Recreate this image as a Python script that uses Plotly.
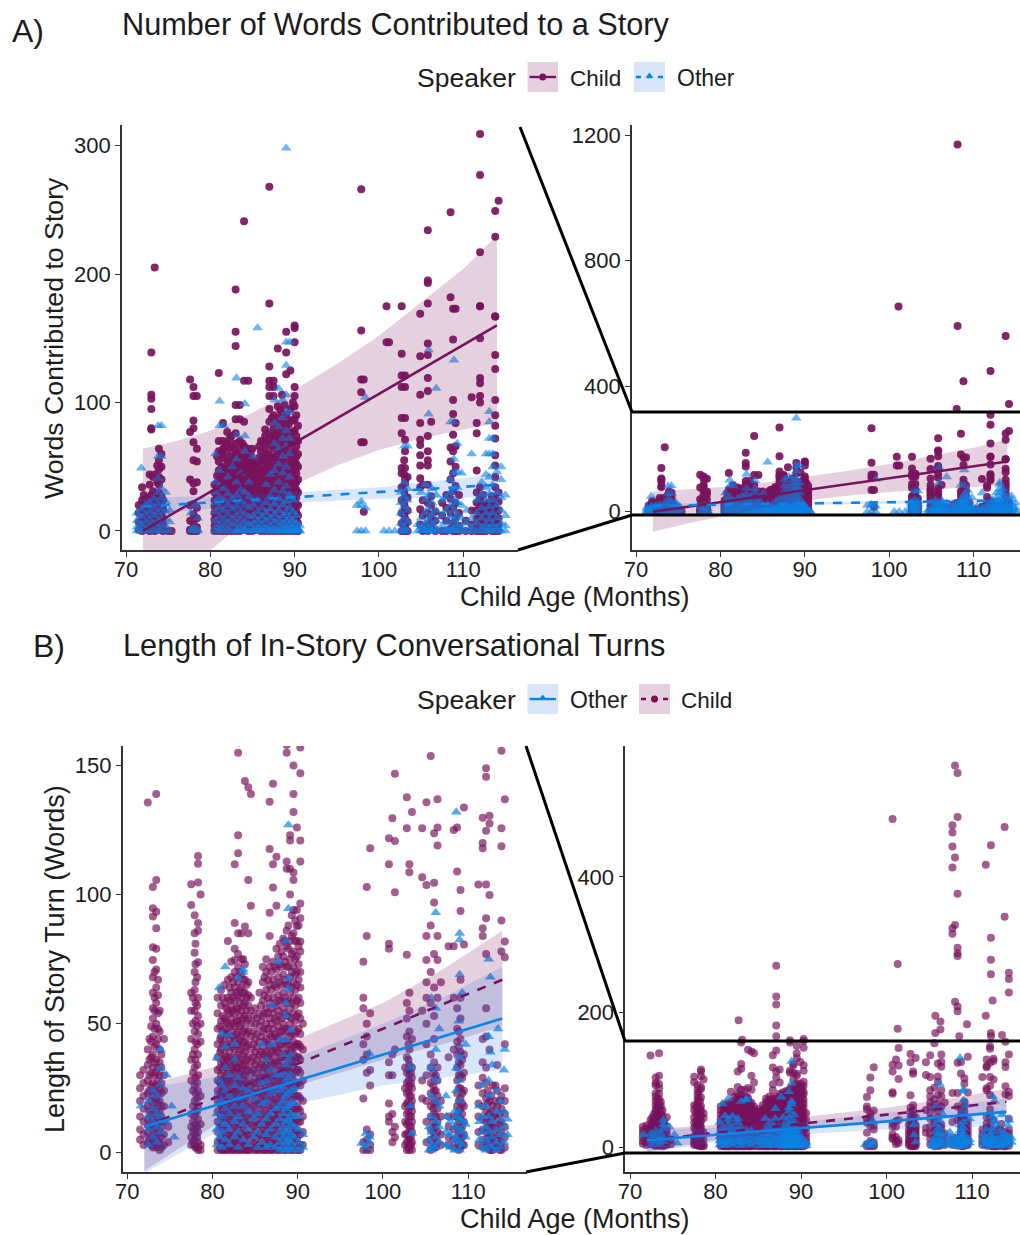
import plotly.graph_objects as go

# ---------- Panel A data: words contributed to a story (age, [values]) ----------
child_words_cols = [
 (71.5,[1,7,14,20]),(71.9,[0,4,10,17,24,34]),(72.4,[2,8,13,19,26]),(72.8,[0,5,11,16,22,36,44]),
 (73.0,[3,9,15,21,28,79,80,95,103,106,139]),(73.4,[0,6,12,18,25,44,205]),(73.9,[2,8,14,20,30,36,42,48,55,64]),
 (74.4,[0,5,10,17,24]),(75.0,[0]),(75.4,[0]),
 (77.6,[0,1,8,20,40,77,118]),(78.0,[0,6,13,21,31,37,55,69,80,86,105,112]),(78.4,[0,3,10,18,38,54,64,105]),
 (80.5,[0,4,9,14,19,24,30,36]),(81.0,[0,3,7,11,16,21,26,31,35,40,47,54,62,70,123]),
 (81.5,[0,5,9,13,18,23,28,33,38,44,50,57,64,70,84]),(82.0,[0,2,6,11,15,20,25,30,36,42,48,55,61,68,77]),
 (82.5,[0,4,8,13,17,22,27,33,39,45,51,58,66,74]),(83.0,[0,2,6,10,15,19,24,30,35,41,47,53,60,68,76,87,98,144,155,188]),
 (83.5,[0,4,8,12,17,22,27,32,38,44,50,56,63,70,87,98]),(84.0,[1,5,10,14,19,24,29,34,40,46,52,58,66,85,117,241]),
 (84.5,[0,3,7,12,16,21,26,31,37,43,49,56,64,117]),(85.0,[0,5,9,14,18,23,29,35,41,48,55,64]),
 (85.5,[1,6,10,15,20,25,30,36,43,51]),(86.0,[0,3,8,12,17,22,27,32,39,46,55,62,70]),
 (86.5,[0,5,9,14,19,24,30,36,42,48,56,63,74,79]),(87.0,[0,3,7,11,16,21,26,31,37,44,51,59,68,76,85,95,105,112,117,128,177,268]),
 (87.5,[0,5,9,13,18,23,28,34,40,47,55,64,72,80,90,105,112,117]),(88.0,[0,3,8,12,17,22,27,33,39,46,54,62,70,78,88,97,142]),
 (88.5,[0,1,6,11,15,20,25,31,37,43,50,58,66,75,84,92,106]),(89.0,[0,4,9,13,18,23,28,34,40,47,54,62,70,80,90,122,139,155]),
 (89.5,[0,2,6,11,16,21,26,32,38,45,52,60,68,76,86,95,125]),(90.0,[0,4,8,13,18,23,29,35,41,48,55,62,70,78,87,97,105,112,147,158,160]),
 (90.4,[0,6,12,20,30,40,50,60,70,82]),
 (97.9,[69,108,118,156,266]),(98.2,[15,69,118]),(100.9,[147,175]),(101.2,[147]),
 (102.7,[0,6,14,24,34,45,49,76,88,112,121,138,175]),(103.1,[0,3,10,18,27,37,40,49,62,71,88,112,121]),(103.4,[0,7,16,26,42]),
 (104.9,[5,17,34,41,51,59,67,71,84,106,136,169]),(105.2,[0,12,24,36]),(105.8,[0,5,14,22,36,51,55,62,74,109,119,137,146,177,193,195,234]),
 (106.2,[3,10,20,27,85]),(106.7,[0,8,15]),(107.5,[0,12,22]),(108.0,[0,8,18,28,327]),(108.5,[2,14,25,40,54,65,182,248]),
 (108.8,[0,6,18,31,45,62,75,91,102,149,173,416]),(109.1,[0,10,22,35,50,66,84,173]),(109.5,[0,4,14,28]),
 (110.3,[0,8]),(111.0,[0,5,16,104]),(111.6,[0,4,10,16,22,30,47,76,84]),(112.0,[0,3,7,12,18,25,34,100,105,115,119,150,175,175,217,277,309,448]),
 (112.4,[0,5,9,14,20,28]),(112.9,[1,6,11,16,22]),(113.4,[0,4,8,13,19,27]),(113.8,[0,2,7,12,18,25,34,42,51,59,72,82,90,102,126,137,167,167,229,249,560]),
 (114.2,[0,5,10,16,23,30,257,343]),(101.1,[654]),(108.1,[592,1170]),
 # second pass through the dense months
 (72.1,[3,9,15,21,28]),(72.6,[1,6,12,18,24]),(73.2,[2,7,13,19,24,31,42]),(73.7,[1,5,11,16,23,29,38,51]),(74.2,[1,7,13,20,27,40,50,60]),
 (80.8,[2,6,12,17,22,27,33,37,43,58]),(81.3,[1,8,13,19,24,29,37,42,49,60]),(81.8,[3,7,11,16,21,27,32,40,46,66]),
 (82.3,[1,5,10,14,19,24,29,35,41,47,53,72]),(82.8,[2,6,11,16,21,26,31,37,43,49,56,64]),(83.3,[1,5,9,14,19,25,29,34,40,46,52,59]),
 (83.8,[3,7,12,17,22,27,33,39,45,51,57,68]),(84.3,[1,6,11,15,21,26,31,36,42,48,54,61]),(84.8,[2,7,12,18,24,29,34,40,47,53,60]),
 (85.3,[1,6,11,16,22,27,33,38,45,52]),(85.8,[3,8,13,18,23,29,34,41,48,57,66]),(86.3,[1,7,12,16,21,26,33,38,44,51,58,68]),
 (86.8,[2,6,10,15,20,25,29,35,41,47,53,60,71]),(87.3,[1,5,9,14,19,24,29,36,42,49,57,66,74,88]),(87.8,[2,6,11,15,20,25,31,37,43,50,58,67,75,84]),
 (88.3,[1,4,9,14,18,23,29,35,41,48,56,64,73,82,94]),(88.8,[2,7,11,16,21,26,32,38,45,52,60,68,77,86,98]),(89.3,[1,5,10,15,20,25,30,36,43,50,58,66,74,83]),
 (89.8,[2,6,11,16,21,27,33,39,46,53,60,69,77,86,100]),(90.2,[1,5,10,15,20,26,32,38,45,52,58,66,74,90]),
 (103.0,[2,8,13,21,31,44,55]),(112.2,[2,6,10,15,21]),(112.7,[0,3,8,13,19]),(113.1,[2,5,10,15,20]),(113.6,[1,6,10,16,22]),
]
other_words_cols = [
 (71.3,[0,3,8,14]),(71.8,[0,5,11,17,49]),(72.3,[0,2,7,13,20]),(72.8,[0,4,9,15,22]),(73.3,[0,6,12,18,25]),
 (73.8,[0,3,8,14,21,30,41,58,82]),(74.2,[0,5,10,17,26,33,58,82]),(74.7,[0,4,9,15,23,30]),(75.2,[0,7,16]),
 (77.7,[0,1,14]),(78.1,[0,1,3,20]),(78.5,[0,1,10]),
 (80.6,[0,3,8,15,22,30,38,60]),(81.1,[0,1,5,11,18,26,35,47,82,101]),(81.6,[0,4,9,16,24,33,82]),(82.1,[0,2,7,13,20,29,42]),
 (82.6,[0,5,10,17,25,50]),(83.1,[0,1,6,12,19,28,38,56,75,119]),(83.6,[0,4,9,15,23,32,45]),(84.1,[0,2,7,13,20,30,62,74,99]),
 (84.6,[0,5,11,18,27,38]),(85.1,[0,1,6,12,20,58]),(85.6,[0,3,8,15,24,158]),(86.1,[0,1,5,11,18]),(86.6,[0,3,8,14,22,36]),
 (87.1,[0,0,4,10,17,27,44]),(87.6,[0,2,7,13,21,32,47,68,84,102]),(88.1,[0,0,4,9,16,25,38,52,64,81,111]),(88.6,[0,2,6,12,20,31,45,58,72,88,102]),
 (89.0,[0,0,3,8,14,23,35,50,66,78,93,106,129,147,298]),(89.4,[0,1,5,10,18,28,42,60,72,92,147]),(89.8,[0,0,3,8,15,24]),(90.2,[0,0,2,6,12]),(90.6,[0,0,4]),
 (97.4,[0,20]),(97.9,[0,20,23]),(98.4,[0,18,104]),(100.6,[0]),(101.2,[0]),(101.9,[0]),
 (102.6,[0,6,14,22,30]),(103.0,[0,3,10,19,27,38,66]),(103.4,[0,7,16,24,33,66]),(104.6,[0,5]),(105.0,[0,3,10,30]),(105.5,[0,1,6,14,24,36]),
 (105.9,[0,3,9,18,28,91,141]),(106.3,[0,0,5,12,22,33]),(106.8,[0,2,8,16,28,111]),(107.5,[0,4,12,24]),(108.0,[0,1,7,16,26]),(108.5,[0,3,11,20,30,40,85]),
 (108.9,[0,2,8,16,24,33,45,56,85,133]),(109.3,[0,5,12,22,34,46,68]),(109.8,[0,3,10,20,45]),(110.4,[0,6,16]),(111.0,[0,3,10,60]),(111.6,[0,6,14,24]),
 (112.2,[0,3,10,18,28,38]),(112.7,[0,5,14,24,34,44,60]),(113.1,[0,2,9,19,29,42,60,72,85,93]),(113.5,[0,5,14,24,36,50,60,72]),(114.0,[0,3,10,20,30,46]),
 (114.5,[0,6,16,26,40,50]),(115.0,[0,4,12,28]),
]
age_child_words_fit = [72, 114]
child_words_fit = [0, 160]
age_other_words_fit = [72, 114]
other_words_fit = [19, 36]
age_ribbon_child_words = [72, 76, 80, 85, 90, 95, 100, 105, 110, 114]
child_words_upper = [64, 70, 78, 92, 110, 130, 152, 178, 204, 230]
child_words_lower = [-64, -38, -15, 12, 36, 51, 63, 72, 79, 84]
age_ribbon_other_words = [72, 80, 90, 100, 110, 114]
other_words_upper = [26, 27, 30, 34, 41, 45]
other_words_lower = [13, 17, 22, 25, 26, 26]

# ---------- Panel B data: length of in-story turns ----------
child_turns_cols = [
 (71.5,[5,9,14,20,25,30]),(71.9,[3,7,12,17,22,27,32]),(72.4,[4,8,13,18,23,28,34,40,135.7]),(72.8,[3,6,10,15,20,26,31,37,43,49]),
 (73.0,[2,5,9,13,17,22,27,33,38,45,52,56,62,68,74.7,79.6,91.5,94.7,103]),(73.4,[2,6,11,16,21,26,31,36,42,50,58,64,71,79,87,93.4,105.7,139]),
 (73.8,[1,4,8,12,16,20,25,30,35,40,47,55]),(74.3,[3,7,12,18,24,30,44]),(74.8,[4,10]),
 (77.5,[3,6,10,15,28,36,44,55,62,96,104]),(77.9,[3,5,9,14,20,26,33,40,47,55,63,70,77.5,85,92]),(78.3,[1,4,8,13,18,24,30,38,46,53,60,73.8,86,89,104.7,112,115]),(78.6,[1,3,11,22,43,50,100]),
 (80.6,[1,4,8,12,16,20,24,28,32,37,42,48,54,60]),(81.0,[1,3,6,10,14,18,22,26,30,35,40,45,51,57,63]),(81.4,[1,5,8,12,16,21,25,29,34,38,43,48,52,58,65]),
 (81.8,[1,3,7,10,14,18,23,27,31,36,41,46,50,55,60,67,82]),(82.2,[1,4,8,12,16,20,24,29,33,37,42,47,52,57,62,68,74]),
 (82.6,[1,3,6,10,14,18,22,26,31,35,40,44,49,54,59,64,70,79,89,111.8,74.7]),(83.0,[1,5,9,13,17,21,25,29,33,38,42,47,51,56,61,66,72,77,85,116,123,155]),
 (83.4,[1,3,7,11,15,19,23,28,32,36,41,45,50,55,60,64,69,75,85]),(83.8,[1,5,8,12,16,21,25,30,34,39,43,48,53,58,62,67,73,87.6,144]),
 (84.2,[1,3,7,11,15,19,24,28,32,37,42,47,52,57,61,66,85,105.7,141.6]),(84.5,[1,5,9,13,17,22,26,31,35,40,45,50,55,60,95.7,139]),
 (85.0,[1,4,8,12,16,20,25,29,34,39,44,50,56]),(85.5,[1,3,7,11,15,19,23,28,33,38,43,49,54,62]),(85.9,[1,5,9,13,18,22,27,31,36,41,47,53,59,66,72]),
 (86.3,[1,3,7,11,15,20,24,29,34,39,44,50,56,63,70,75]),(86.7,[1,5,9,13,17,22,26,31,36,41,46,52,58,65,72,84,93,117.7,136]),
 (87.1,[1,3,7,11,15,19,24,28,33,38,43,48,54,60,67,74,102.8,111.8,143]),(87.5,[1,5,9,13,17,21,26,30,35,40,45,51,57,64,71,79,95.7,114.7]),
 (87.9,[1,3,7,11,15,19,23,28,32,37,42,47,53,59,66,73,81]),(88.3,[1,5,9,13,17,21,26,30,35,40,45,50,56,62,69,76,83]),
 (88.7,[1,3,7,11,15,20,24,29,33,38,43,48,53,58,65,72,80,86,112.8,110,155]),(89.1,[1,5,9,13,17,22,26,31,35,40,45,50,56,62,68,75,82,100,110,121,123]),
 (89.5,[1,3,7,11,15,19,24,28,33,38,43,48,54,60,66,72,78,85,94,105.7,132,139,150,108.6]),(89.9,[1,5,9,13,18,22,27,32,37,42,47,53,59,65,70,76,82,87.8,94,126]),
 (90.3,[1,3,7,12,16,21,26,31,36,41,46,52,58,64,70,78,81.8,90.8,96.6,112.8,121,147,157,160]),(90.6,[3,8,14,20,28,40,50]),
 (97.7,[1,4,21,36,42,56,60,74]),(98.1,[1,5,9,31,38,45,50,84,103]),(98.5,[1,3,7,26,32,54,118]),
 (100.7,[12,14,19,30,35,81,79,111.8,121.8]),(101.1,[4,8,15,30,38,129.6]),(101.4,[6,10,40,100.9,120.8,146.8]),(102.8,[1,4,7,11,15,19,23,27,31,37,45,52,58,76.7,125.7,137.7]),
 (103.1,[1,3,6,10,14,18,22,26,30,34,40,47,55,62,108.7,111.8]),(103.4,[1,4,8,12,16,20,25,29,33,44,132]),
 (104.6,[21,28,55,106.7,125.7]),(105.1,[4,12,20,30,42,50,60,66,74.7,84,103.7,135.8]),(105.6,[1,5,9,14,18,23,27,33,38,58,70,88,153.7]),
 (106.0,[2,6,10,15,19,24,29,35,44,53,64,77,96.9,104.6,123.8]),(106.4,[4,8,12,17,22,28,33,60,74.7,84,119,126,137]),(106.8,[3,7,14,20,66]),
 (107.7,[3,6,10,14,37,80]),(108.3,[2,5,9,14,40,60,80,125]),(108.7,[2,6,10,14,18,23,28,33,38,43,48,56,126,109]),(109.1,[2,5,9,13,17,21,25,30,34,39,44,52,60,67,93.7,101.8]),
 (109.5,[3,7,12,18,24,31,38,80.7,133.8]),(111.2,[3,8,14,19,26,103.9]),(111.7,[2,5,9,13,18,23,29,35,44,84,87,118,120,129.8]),(112.1,[2,4,8,12,16,21,27,33,45,56,77,90.8,103.9,124.8,145.7,149]),
 (112.5,[1,4,7,11,15,20,40,99.9,127.6,130.6]),(112.9,[1,3,6,10,14,18,26]),(113.4,[2,5,9,13,18,24,34]),(113.9,[1,4,8,12,17,22,78,90,118.7,125.7,155.8]),(114.3,[2,6,10,15,20,25,42,75.7,81.8,137]),
 (108,[215,329,429,565]),(108.3,[201,208,283,287,295,375,489,554]),(107.7,[316,324,414,445,466,476.5]),(100.7,[486]),(113.8,[341,474]),(112.2,[164,169,256,277.5,310,447]),
 (111.6,[194.6,418]),(87.1,[164,180,211,223,268.6]),(101.3,[175,271]),(114.3,[229,249,258]),(112.4,[217]),(105.7,[169,194.6]),(106.3,[174,186]),(82.7,[187.7]),(109.4,[182]),(108.5,[164]),(83.1,[159]),(113.5,[166]),(88.7,[158]),
 # second pass through the dense months
 (72.6,[5,11,16,24,30,36,44]),(73.2,[3,7,12,19,24,30,35,41,48,55,60,70]),(73.6,[4,9,14,19,23,28,33,44,48,54,61,67]),(74.0,[2,6,10,14,18,23,27,33,38]),
 (78.0,[2,7,11,16,23,29,36,43,51,58,66,73,81]),(77.7,[4,8,12,18,24,31,38,50,60]),(78.2,[2,6,10,16,21,27,34,42,49,57,68]),
 (80.9,[2,5,10,15,19,23,27,33,39,44,49]),(81.2,[1,4,9,13,17,20,24,28,32,36,42,47,53,60]),(81.6,[1,3,6,11,15,19,23,28,33,37,41,46,51,56]),
 (82.0,[2,5,9,13,17,21,26,30,35,39,44,49,54,59,64]),(82.4,[1,3,7,11,15,19,23,28,32,36,41,45,50,55,60,66]),(82.8,[2,5,8,12,16,20,24,28,33,37,42,46,51,56,62,68]),
 (83.2,[1,4,7,11,15,19,23,27,31,35,40,44,49,53,58,63,70]),(83.6,[2,5,9,13,17,21,26,30,34,38,43,47,52,57,62,67,75]),(84.0,[1,3,7,11,14,18,23,27,32,36,41,46,51,55,60,65]),
 (84.8,[2,6,10,14,18,23,27,32,37,42,47,53]),(85.2,[1,3,7,11,15,19,23,27,31,36,41,46,52]),(85.7,[2,5,9,13,17,21,25,29,34,39,45,51,57]),
 (86.1,[1,3,7,11,15,20,24,29,33,38,43,48,54,61,68]),(86.5,[2,6,10,14,18,23,27,32,37,42,48,54,60,67]),(86.9,[1,4,8,12,16,20,24,29,34,39,45,50,56,63,70]),
 (87.3,[2,5,9,13,17,21,26,30,35,41,46,52,58,65,72]),(87.7,[1,3,7,11,15,19,24,29,34,39,44,49,55,61,68,76]),(88.1,[2,5,9,13,17,22,27,32,37,42,47,52,59,65,72,78]),
 (88.5,[1,3,7,11,15,19,23,28,33,38,43,48,54,60,67,74,82]),(88.9,[2,6,10,14,18,23,27,32,37,42,47,53,59,65,72,79,88]),(89.3,[1,4,8,12,16,21,25,30,35,40,46,52,58,64,70,77,84,92]),
 (89.7,[2,5,9,13,17,22,26,31,36,41,46,51,57,63,69,75,82,90]),(90.1,[1,3,7,12,17,22,27,32,37,42,48,54,60,67,73,80,88]),
 (102.6,[3,7,12,18,25,33]),(103.0,[2,5,8,12,16,20,24,28,32,36,42]),(103.3,[3,6,10,14,18,22,27,31]),
 (105.9,[3,8,12,17,21,26,31]),(106.2,[2,6,10,14,19,24,30]),(108.9,[1,4,8,12,16,20,25,30,35,41,47]),(109.3,[3,6,10,15,19,23,29,36]),
 (112.3,[2,6,10,14,19,24]),(112.7,[1,4,8,12,16,22]),(113.2,[2,6,10,15,20,26]),(113.7,[1,3,7,11,15,20]),
]
other_turns_cols = [
 (71.6,[18]),(72.5,[3,9,14,20]),(73.0,[6,12,17,24]),(73.5,[4,10,15,22]),(73.9,[8,14,26.6,32.7,40]),(74.6,[12,30]),(75.2,[18]),(75.5,[6]),
 (80.5,[3,9,15,22,36.6]),(80.8,[6,12,19,28,64]),(81.1,[2,8,14,20,26,46]),(81.5,[5,11,17,24,33,41,72]),(82.0,[3,9,15,22,30,45.6]),(82.6,[6,12,18,26,36,42]),
 (83.0,[2,8,14,21,29,67.6]),(83.6,[5,11,18,25,70,71]),(84.2,[3,9,16,24]),(84.8,[6,13,21]),(85.3,[2,8,15]),(85.8,[4,11,19,27,42]),(86.3,[2,7,13,20,28,36]),
 (86.8,[3,9,15,23,32]),(87.0,[42,57]),(87.4,[2,6,11,17,24,30]),(87.7,[74]),(87.9,[1,4,8,13,18,24,30,43.7]),(88.3,[2,6,10,15,20,25,31,38]),
 (88.6,[1,4,8,12,17,22,28,34,43.7,53,58,82]),(88.9,[2,5,9,13,18,23,29,36,63.7,67.6,94.6,127]),(89.2,[1,4,7,11,15,19,24,30,38,47.5]),(89.6,[2,6,10,14,19,25]),(90.1,[1,4,9,14]),(90.6,[2,7]),
 (97.5,[3.6]),(98.0,[2,7.5]),(98.4,[4,6,38.5]),(103.2,[18,33]),(103.4,[7.5]),(105.4,[1,5,10]),(105.7,[1,3,8,14,22,33,60]),(106.2,[2,6,12,20,28,40,56,93]),(106.6,[4,10,18,48]),
 (107.4,[3,8,14,22]),(107.9,[2,7,12]),(108.4,[1,5,10,16]),(108.6,[6,14,24,32.7,132]),(109.0,[1,4,9,13,20,28,37,69,82.5,85]),(108.9,[16,51]),(109.3,[3,8,12,62]),(109.7,[6,11,42]),
 (111.3,[5,12,18]),(111.6,[2,8,14,26]),(112.1,[1,5,10,18]),(112.4,[3,8,14,22,28,45,75]),(112.6,[39,68]),(112.8,[2,6,12,34]),(113.3,[1,4,9,16,24]),(113.5,[48]),(113.8,[2,7,13,20]),(114.2,[4,10,16,32]),(114.3,[40]),(114.6,[7,13]),
]
age_other_turns_fit = [72, 114]
other_turns_fit = [10, 52]
age_child_turns_fit = [72, 114]
child_turns_fit = [10, 67]
age_ribbon_turns = [72, 80, 90, 100, 107, 114]
child_turns_upper = [26, 33, 44, 58, 71, 86]
child_turns_lower = [-7, 10, 26, 36, 42, 49]
other_turns_upper = [25, 29, 37, 50, 60, 72]
other_turns_lower = [-8, 7, 19, 26, 29, 32]

# ---------- Ticks and text ----------
left_age_ticks = [70, 80, 90, 100, 110]
words_left_ticks = [0, 100, 200, 300]
words_right_ticks = [0, 400, 800, 1200]
turns_left_ticks = [0, 50, 100, 150]
turns_right_ticks = [0, 200, 400]
title_a = "Number of Words Contributed to a Story"
title_b = "Length of In-Story Conversational Turns"

CHILD, OTHER = "#77125C", "#0A84E6"
CHILD_FILL, OTHER_FILL = "rgba(119,18,92,0.20)", "rgba(30,105,225,0.17)"
FONT = "Liberation Sans"
INK = "#1c1c1c"
W, H = 1020, 1235


def expand(cols):
    xs, ys = [], []
    for a, vals in cols:
        for v in vals:
            xs.append(a)
            ys.append(v)
    return xs, ys


fig = go.Figure()

panels = [
    ("", 122, 518, 125, 550, [69.52, 116.5], [-14.8, 316], words_left_ticks),
    ("2", 632, 1020, 125, 550, [69.52, 115.5], [-122, 1232], words_right_ticks),
    ("3", 122.7, 527, 746, 1172, [69.46, 116.9], [-7.5, 157.6], turns_left_ticks),
    ("4", 625.3, 1020, 746, 1172, [69.45, 115.6], [-37, 594], turns_right_ticks),
]
layout_axes = {}
for s, l, r, t, b, xr, yr, yt in panels:
    common = dict(showgrid=False, zeroline=False, showline=True, linecolor="#333333", linewidth=1.6,
                  ticks="outside", ticklen=5, tickwidth=1.3, tickcolor="#333333", automargin=False,
                  tickfont=dict(family=FONT, size=22, color=INK))
    layout_axes["xaxis" + s] = dict(domain=[l / W, r / W], range=xr, tickvals=left_age_ticks,
                                    ticklabelstandoff=-6, anchor="y" + s, **common)
    layout_axes["yaxis" + s] = dict(domain=[1 - b / H, 1 - t / H], range=yr, tickvals=yt,
                                    anchor="x" + s, **common)
# pixel-addressed overlay used for legend keys, connectors and titles
layout_axes["xaxis5"] = dict(domain=[0, 1], range=[0, W], visible=False, anchor="y5", automargin=False)
layout_axes["yaxis5"] = dict(domain=[0, 1], range=[H, 0], visible=False, anchor="x5", automargin=False)


def pts(xs, ys, color, symbol, size, alpha, s):
    fig.add_trace(go.Scatter(x=xs, y=ys, mode="markers", xaxis="x" + s, yaxis="y" + s, showlegend=False,
                             marker=dict(color=color, symbol=symbol, size=size, opacity=alpha, line=dict(width=0))))


def band(xs, up, lo, fill, s):
    fig.add_trace(go.Scatter(x=list(xs) + list(xs)[::-1], y=list(up) + list(lo)[::-1], mode="lines", fill="toself",
                             fillcolor=fill, line=dict(width=0), xaxis="x" + s, yaxis="y" + s, showlegend=False,
                             hoverinfo="skip"))


def fit(xs, ys, color, dash, s):
    fig.add_trace(go.Scatter(x=xs, y=ys, mode="lines", line=dict(color=color, width=2.6, dash=dash),
                             xaxis="x" + s, yaxis="y" + s, showlegend=False))


cwx, cwy = expand(child_words_cols)
owx, owy = expand(other_words_cols)
ctx, cty = expand(child_turns_cols)
otx, oty = expand(other_turns_cols)

for s in ("", "2"):
    pts(cwx, cwy, CHILD, "circle", 8, 0.92, s)
    pts(owx, owy, OTHER, "triangle-up", 9.5, 0.6, s)
    band(age_ribbon_child_words, child_words_upper, child_words_lower, CHILD_FILL, s)
    band(age_ribbon_other_words, other_words_upper, other_words_lower, OTHER_FILL, s)
    fit(age_child_words_fit, child_words_fit, CHILD, "solid", s)
    fit(age_other_words_fit, other_words_fit, OTHER, "dash", s)
for s in ("3", "4"):
    pts(ctx, cty, CHILD, "circle", 8, 0.68, s)
    pts(otx, oty, OTHER, "triangle-up", 9.5, 0.7, s)
    band(age_ribbon_turns, child_turns_upper, child_turns_lower, CHILD_FILL, s)
    band(age_ribbon_turns, other_turns_upper, other_turns_lower, OTHER_FILL, s)
    fit(age_child_turns_fit, child_turns_fit, CHILD, "dash", s)
    fit(age_other_turns_fit, other_turns_fit, OTHER, "solid", s)

# legend keys (pixel overlay)
keys = [
    (527.5, 558, 77, CHILD, "circle", "solid", CHILD_FILL),
    (634, 665, 77, OTHER, "triangle-up", "5px,6px", OTHER_FILL),
    (527.5, 558, 699, OTHER, "triangle-up", "solid", OTHER_FILL),
    (639, 670, 699, CHILD, "circle", "5px,6px", CHILD_FILL),
]
shapes = []
for x0, x1, yc, col, sym, dash, fill in keys:
    shapes.append(dict(type="rect", xref="x5", yref="y5", x0=x0, x1=x1, y0=yc - 15, y1=yc + 15,
                       fillcolor=fill, line=dict(width=0), layer="below"))
    fig.add_trace(go.Scatter(x=[x0 + 2, (x0 + x1) / 2, x1 - 2], y=[yc, yc, yc], mode="lines", xaxis="x5", yaxis="y5",
                             showlegend=False, hoverinfo="skip", line=dict(color=col, width=2.4, dash=dash)))
    fig.add_trace(go.Scatter(x=[(x0 + x1) / 2], y=[yc - (1 if sym != "circle" else 0)], mode="markers", xaxis="x5", yaxis="y5",
                             showlegend=False, hoverinfo="skip", marker=dict(color=col, symbol=sym, size=7)))

# zoom connectors
for x0, y0, x1, y1 in [(520, 127, 632, 412), (632, 412, 1020, 412), (518, 550, 632, 515), (632, 515, 1020, 515),
                       (526, 746, 625, 1041), (625, 1041, 1020, 1041), (526, 1172, 625, 1153), (625, 1153, 1020, 1153)]:
    shapes.append(dict(type="line", xref="x5", yref="y5", x0=x0, y0=y0, x1=x1, y1=y1,
                       line=dict(color="#000000", width=3)))

notes = [
    ("A)", 10, 31, "left", 32, 0),
    ("B)", 31, 646, "left", 32, 0),
    (title_a, 119.5, 24, "left", 30.7, 0),
    (title_b, 120.5, 645, "left", 30.7, 0),
    ("Speaker", 415, 78, "left", 26.5, 0),
    ("Child", 568, 78, "left", 22.5, 0),
    ("Other", 675, 78, "left", 23, 0),
    ("Speaker", 415, 700, "left", 26.5, 0),
    ("Other", 568, 700, "left", 23, 0),
    ("Child", 679, 700, "left", 22.5, 0),
    ("Child Age (Months)", 575, 597, "center", 27, 0),
    ("Child Age (Months)", 575, 1219, "center", 27, 0),
    ("Words Contributed to Story", 54, 338, "center", 26.7, -90),
    ("Length of Story Turn (Words)", 55, 959, "center", 27, -90),
]
annotations = [dict(text=t, x=x, y=y, xref="x5", yref="y5", xanchor=a, yanchor="middle", showarrow=False,
                    textangle=ang, font=dict(family=FONT, size=sz, color=INK))
               for t, x, y, a, sz, ang in notes]

fig.update_layout(template="none", width=W, height=H, margin=dict(l=0, r=0, t=0, b=0, pad=0), paper_bgcolor="white",
                  plot_bgcolor="rgba(0,0,0,0)", showlegend=False, shapes=shapes, annotations=annotations, **layout_axes)
fig.write_html("out.html", config={"displayModeBar": False}, post_script="document.body.style.margin='0';")
